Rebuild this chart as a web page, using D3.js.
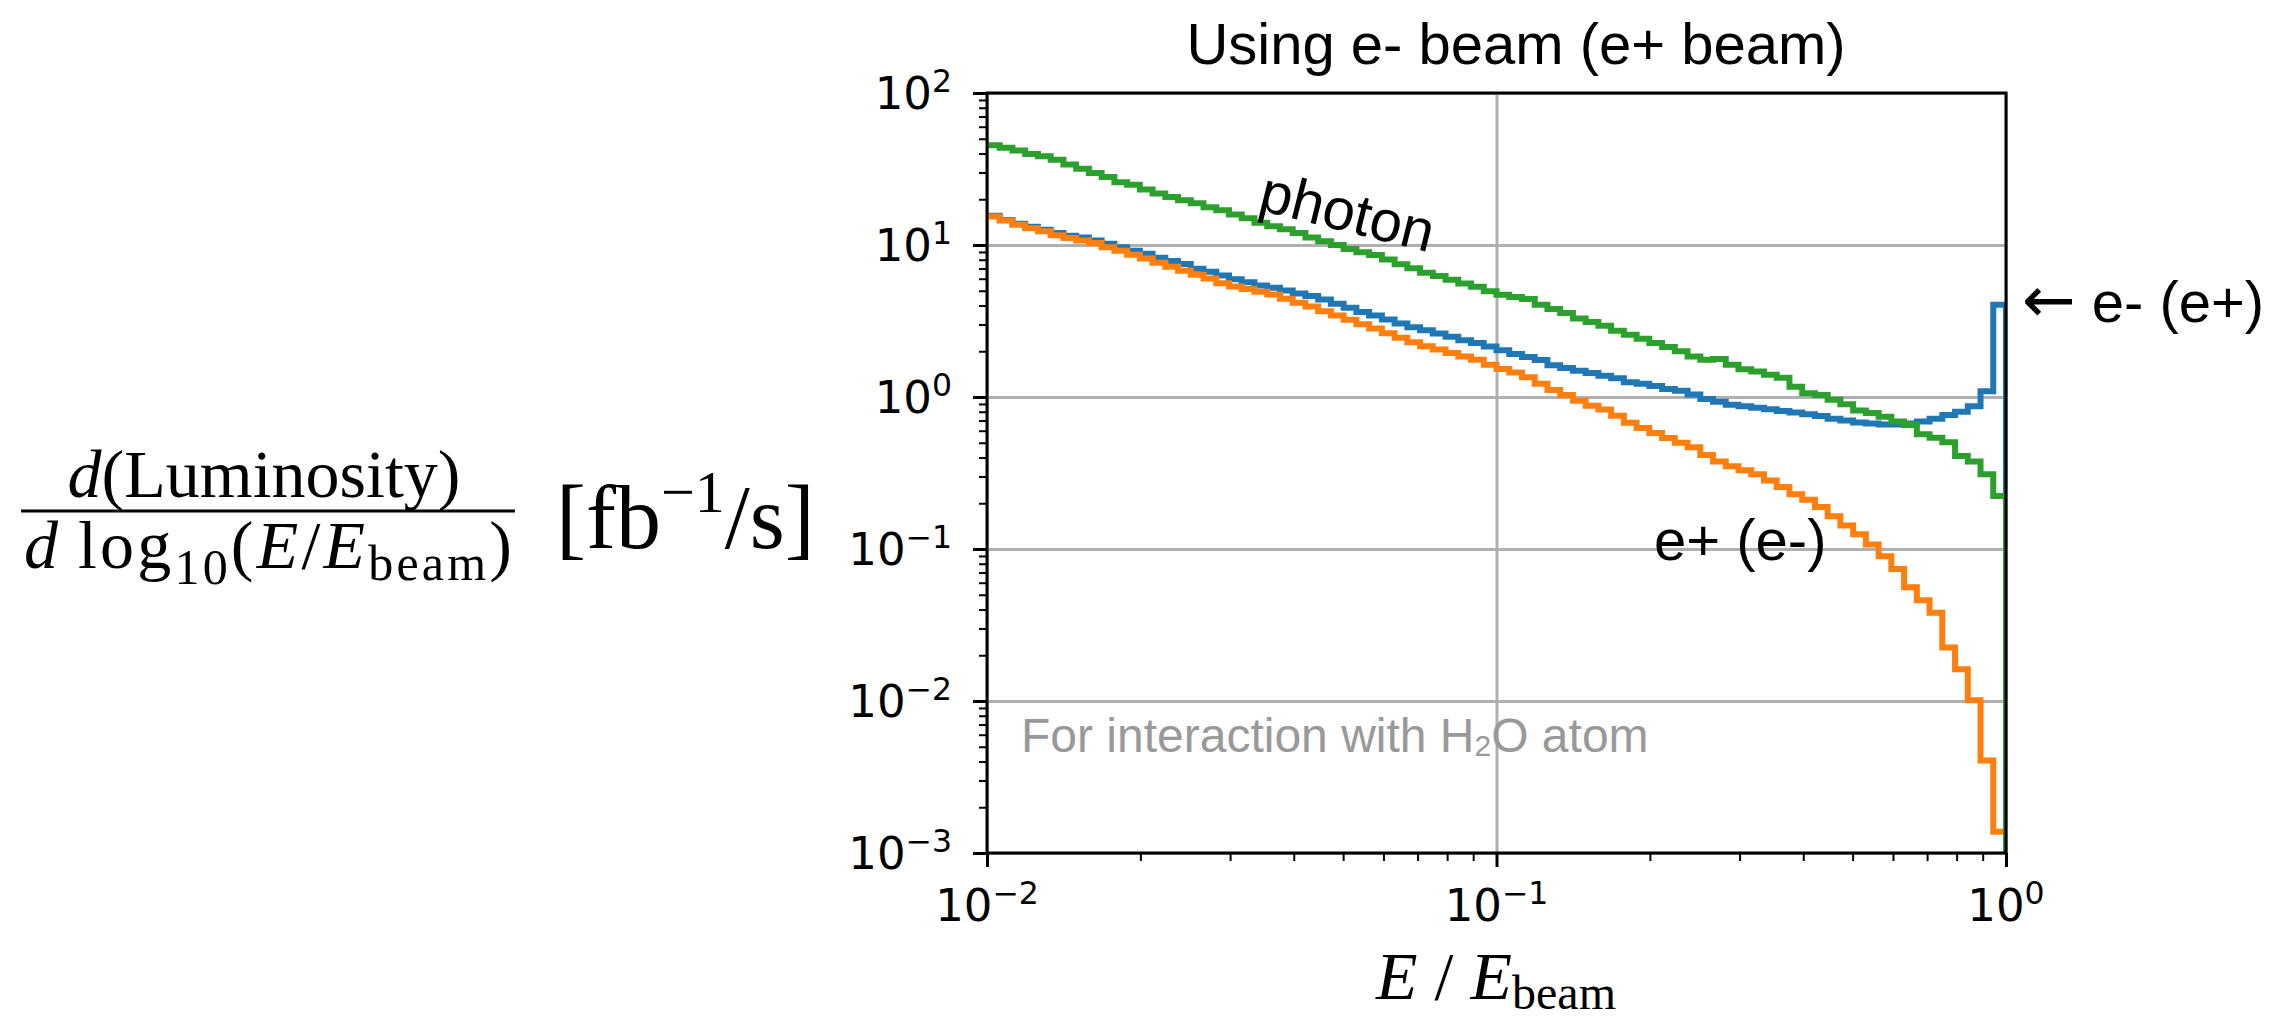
<!DOCTYPE html>
<html>
<head>
<meta charset="utf-8">
<script src="https://cdn.jsdelivr.net/npm/d3@7/dist/d3.min.js"></script>
<style>
  body { margin: 0; background: #fff; }
  svg text { font-family: "Liberation Sans", Arial, sans-serif; fill: #000; }
  .tick-label { font-family: "DejaVu Sans", sans-serif; font-size: 45px; }
  .math { font-family: "Liberation Serif", "Times New Roman", serif; }
</style>
</head>
<body>
<div id="chart"></div>
<script>
// histogram binning: 40 bins per decade, 10^-2 .. 10^0
const logMin = -2;
const binsPerDecade = 40;
const nBins = 80;

// d(Lumi)/dlog10(E/Ebeam) per bin
const eMinus = [
  15.6, 14.6, 13.8, 13.2, 12.6, 12.0, 11.5, 11.2, 10.7, 10.2,
  9.66, 9.18, 8.77, 8.25, 7.84, 7.49, 6.97, 6.66, 6.30, 5.96,
  5.68, 5.42, 5.23, 5.02, 4.80, 4.61, 4.38, 4.10, 3.86, 3.63,
  3.44, 3.24, 3.05, 2.88, 2.75, 2.62, 2.49, 2.36, 2.27, 2.15,
  2.03, 1.92, 1.83, 1.75, 1.62, 1.55, 1.49, 1.44, 1.38, 1.33,
  1.25, 1.22, 1.18, 1.13, 1.10, 1.04, 0.97, 0.93, 0.89, 0.87,
  0.85, 0.83, 0.81, 0.79, 0.77, 0.75, 0.72, 0.70, 0.68, 0.67,
  0.66, 0.66, 0.67, 0.69, 0.72, 0.76, 0.80, 0.87, 1.09, 4.04
];

const ePlus = [
  15.4, 14.5, 13.6, 12.9, 12.3, 11.6, 11.1, 10.7, 10.3, 9.66,
  9.18, 8.63, 8.16, 7.64, 7.19, 6.76, 6.37, 6.03, 5.61, 5.33,
  5.13, 4.92, 4.73, 4.43, 4.17, 3.94, 3.67, 3.44, 3.22, 3.01,
  2.82, 2.63, 2.45, 2.29, 2.16, 2.05, 1.95, 1.85, 1.76, 1.63,
  1.53, 1.45, 1.35, 1.22, 1.11, 1.03, 0.946, 0.877, 0.826, 0.754,
  0.678, 0.625, 0.580, 0.537, 0.501, 0.467, 0.415, 0.376, 0.350, 0.330,
  0.310, 0.282, 0.256, 0.229, 0.211, 0.189, 0.164, 0.143, 0.125, 0.107,
  0.0895, 0.0738, 0.056, 0.046, 0.038, 0.0225, 0.0162, 0.0101, 0.00406, 0.00138
];

const photon = [
  45.3, 43.7, 41.8, 39.7, 38.3, 36.4, 33.8, 31.8, 29.8, 28.0,
  25.9, 24.9, 23.2, 21.8, 20.7, 19.7, 18.8, 17.7, 16.9, 15.9,
  15.0, 14.0, 13.3, 12.7, 12.0, 11.2, 10.6, 10.0, 9.4, 8.95,
  8.6, 8.04, 7.46, 7.02, 6.58, 6.25, 5.91, 5.58, 5.31, 4.97,
  4.70, 4.55, 4.41, 4.05, 3.79, 3.57, 3.28, 3.11, 2.94, 2.73,
  2.57, 2.42, 2.27, 2.13, 2.00, 1.85, 1.76, 1.78, 1.63, 1.52,
  1.47, 1.40, 1.34, 1.17, 1.06, 1.03, 0.96, 0.895, 0.815, 0.784,
  0.742, 0.691, 0.654, 0.569, 0.539, 0.504, 0.409, 0.376, 0.310, 0.223
];

const seriesColors = ["#1f77b4", "#ff7f0e", "#2ca02c"];

const xMajor = [1e-2, 1e-1, 1];
const xMajorExp = ["\u22122", "\u22121", "0"];
const yMajor = [1e-3, 1e-2, 1e-1, 1, 10, 100];
const yMajorExp = ["\u22123", "\u22122", "\u22121", "0", "1", "2"];

// layout
const margin = { top: 93, left: 987 };
const width = 1019;
const height = 760;

const svg = d3.select("#chart")
  .append("svg")
  .attr("width", 2274)
  .attr("height", 1021);

svg.append("rect").attr("width", 2274).attr("height", 1021).attr("fill", "#fff");

svg.append("defs")
  .append("clipPath")
  .attr("id", "clip")
  .append("rect")
  .attr("width", width)
  .attr("height", height);

const g = svg.append("g")
  .attr("transform", "translate(" + margin.left + "," + margin.top + ")");

// scales
const x = d3.scaleLog().domain([1e-2, 1]).range([0, width]);
const y = d3.scaleLog().domain([1e-3, 1e2]).range([height, 0]);

function minorTicks(lo, hi) {
  let out = [];
  for (let e = lo; e < hi; e++) {
    for (let m = 2; m <= 9; m++) out.push(m * Math.pow(10, e));
  }
  return out;
}

// grid lines
const xGrid = g.append("g")
  .call(d3.axisBottom(x).tickValues(xMajor).tickSize(height).tickFormat(""));
const yGrid = g.append("g")
  .call(d3.axisLeft(y).tickValues(yMajor).tickSize(-width).tickFormat(""));
[xGrid, yGrid].forEach(function (gr) {
  gr.select(".domain").remove();
  gr.selectAll("line").attr("stroke", "#b0b0b0").attr("stroke-width", 3);
});

// histograms (step)
const edges = d3.range(nBins + 1).map(function (i) {
  return Math.pow(10, logMin + i / binsPerDecade);
});

function stepPoints(vals) {
  let pts = [];
  vals.forEach(function (v, i) {
    pts.push([edges[i], v]);
    pts.push([edges[i + 1], v]);
  });
  // drop to zero at the right edge
  pts.push([edges[nBins], 1e-5]);
  return pts;
}

const line = d3.line()
  .x(function (d) { return x(d[0]); })
  .y(function (d) { return y(d[1]); });

const plotArea = g.append("g").attr("clip-path", "url(#clip)");

[eMinus, ePlus, photon].forEach(function (vals, i) {
  plotArea.append("path")
    .datum(stepPoints(vals))
    .attr("d", line)
    .attr("fill", "none")
    .attr("stroke", seriesColors[i])
    .attr("stroke-width", 6)
    .attr("stroke-linejoin", "miter");
});

// frame
g.append("rect")
  .attr("width", width)
  .attr("height", height)
  .attr("fill", "none")
  .attr("stroke", "#000")
  .attr("stroke-width", 3);

// ticks
function drawTicks(axis, values, size, sw, transform) {
  const t = g.append("g").attr("transform", transform || null)
    .call(axis.tickValues(values).tickSize(size).tickFormat(""));
  t.select(".domain").remove();
  t.selectAll("line").attr("stroke", "#000").attr("stroke-width", sw);
}
drawTicks(d3.axisBottom(x), xMajor, 14, 3, "translate(0," + height + ")");
drawTicks(d3.axisBottom(x), minorTicks(-2, 0), 8, 2, "translate(0," + height + ")");
drawTicks(d3.axisLeft(y), yMajor, 14, 3);
drawTicks(d3.axisLeft(y), minorTicks(-3, 2), 8, 2);

// tick labels 10^n
const xLab = g.selectAll(".xlab")
  .data(xMajor)
  .enter()
  .append("text")
  .attr("class", "tick-label")
  .attr("x", function (d) { return x(d); })
  .attr("y", height + 68)
  .attr("text-anchor", "middle");
xLab.append("tspan").text("10");
xLab.append("tspan")
  .attr("dy", -17)
  .style("font-size", "31.5px")
  .text(function (d, i) { return xMajorExp[i]; });

const yLab = g.selectAll(".ylab")
  .data(yMajor)
  .enter()
  .append("text")
  .attr("class", "tick-label")
  .attr("x", -35)
  .attr("y", function (d) { return y(d) + 16; })
  .attr("text-anchor", "end");
yLab.append("tspan").text("10");
yLab.append("tspan")
  .attr("dy", -17)
  .style("font-size", "31.5px")
  .text(function (d, i) { return yMajorExp[i]; });

// title
svg.append("text")
  .attr("x", 1516)
  .attr("y", 64)
  .attr("text-anchor", "middle")
  .style("font-size", "58px")
  .text("Using e- beam (e+ beam)");

// annotations
svg.append("text")
  .attr("transform", "translate(1347,214) rotate(14)")
  .attr("text-anchor", "middle")
  .attr("dy", "0.3em")
  .style("font-size", "58px")
  .text("photon");

const arrowNote = svg.append("text")
  .attr("x", 2022)
  .attr("y", 322)
  .style("font-size", "58px");
arrowNote.append("tspan")
  .style("font-family", "'DejaVu Sans', sans-serif")
  .style("font-size", "64px")
  .text("\u2190");
arrowNote.append("tspan").text(" e- (e+)");

svg.append("text")
  .attr("x", 1654)
  .attr("y", 560)
  .style("font-size", "58px")
  .text("e+ (e-)");

const note = svg.append("text")
  .attr("x", 1021)
  .attr("y", 752)
  .style("font-size", "48px")
  .style("fill", "#999");
note.append("tspan").text("For interaction with H");
note.append("tspan").attr("dy", 4).style("font-size", "30px").text("2");
note.append("tspan").attr("dy", -4).text("O atom");

// x-axis label
const xTitle = svg.append("text")
  .attr("class", "math")
  .attr("x", 1496)
  .attr("y", 999)
  .attr("text-anchor", "middle")
  .style("font-size", "68px");
xTitle.append("tspan").style("font-style", "italic").text("E");
xTitle.append("tspan").text(" / ");
xTitle.append("tspan").style("font-style", "italic").text("E");
xTitle.append("tspan").attr("dy", 10).style("font-size", "48px").text("beam");

// y-axis label (fraction)
const num = svg.append("text")
  .attr("class", "math")
  .attr("x", 264)
  .attr("y", 497)
  .attr("text-anchor", "middle")
  .style("font-size", "68px");
num.append("tspan").style("font-style", "italic").text("d");
num.append("tspan").text("(Luminosity)");

svg.append("line")
  .attr("x1", 21).attr("x2", 515)
  .attr("y1", 511).attr("y2", 511)
  .attr("stroke", "#000")
  .attr("stroke-width", 3);

const den = svg.append("text")
  .attr("class", "math")
  .attr("x", 24)
  .attr("y", 568)
  .attr("textLength", 488)
  .attr("lengthAdjust", "spacing")
  .style("font-size", "68px");
den.append("tspan").style("font-style", "italic").text("d");
den.append("tspan").text("\u2009log");
den.append("tspan").attr("dy", 16).style("font-size", "50px").text("10");
den.append("tspan").attr("dy", -16).text("(");
den.append("tspan").style("font-style", "italic").text("E");
den.append("tspan").text("/");
den.append("tspan").style("font-style", "italic").text("E");
den.append("tspan").attr("dy", 12).style("font-size", "50px").text("beam");
den.append("tspan").attr("dy", -12).text(")");

const unit = svg.append("text")
  .attr("class", "math")
  .attr("x", 556)
  .attr("y", 548)
  .style("font-size", "90px");
unit.append("tspan").text("[fb");
unit.append("tspan").attr("dy", -36).style("font-size", "60px").text("\u22121");
unit.append("tspan").attr("dy", 36).text("/s]");
</script>
</body>
</html>
